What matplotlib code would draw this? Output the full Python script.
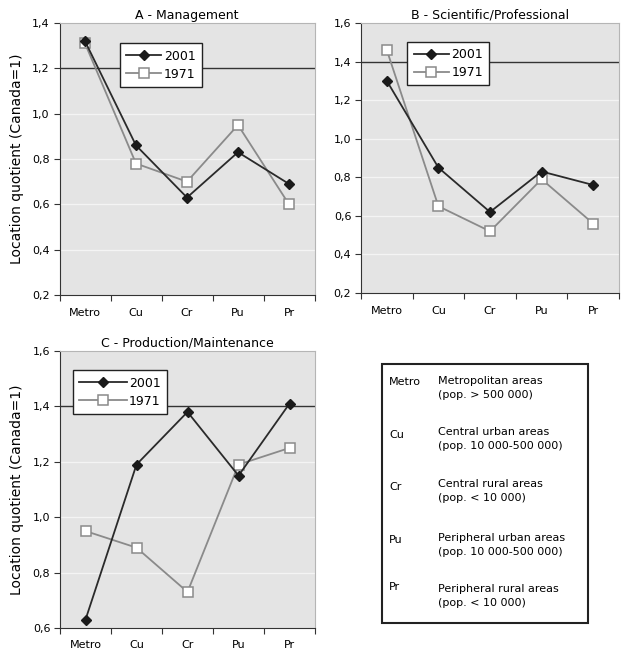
#Location quotient charts, three occupation groups plus a key box

import numpy as np
import matplotlib.pyplot as plt
from matplotlib.patches import Rectangle

#$$$$$$$$$$$$$$$$$$$$$$

categories = ["Metro", "Cu", "Cr", "Pu", "Pr"]

mgmt_2001 = [1.32, 0.86, 0.63, 0.83, 0.69]
mgmt_1971 = [1.31, 0.78, 0.70, 0.95, 0.60]

sci_2001 = [1.30, 0.85, 0.62, 0.83, 0.76]
sci_1971 = [1.46, 0.65, 0.52, 0.79, 0.56]

prod_2001 = [0.63, 1.19, 1.38, 1.15, 1.41]
prod_1971 = [0.95, 0.89, 0.73, 1.19, 1.25]

key_codes = ["Metro", "Cu", "Cr", "Pu", "Pr"]
key_names = ["Metropolitan areas\n(pop. > 500 000)",
             "Central urban areas\n(pop. 10 000-500 000)",
             "Central rural areas\n(pop. < 10 000)",
             "Peripheral urban areas\n(pop. 10 000-500 000)",
             "Peripheral rural areas\n(pop. < 10 000)"]

#$$$$$$$$$$$$$$$$$$$$$$

W = 624.0
H = 663.0

def px_axes(fig, left, top, right, bottom):
#makes an axes from pixel edges measured from the top left of the figure
    return fig.add_axes([left / W, (H - bottom) / H, (right - left) / W, (bottom - top) / H])

#$$$$$$$$$$$$$$$$$$$$$$

def draw_panel(ax, title, s2001, s1971, ymin, ymax, refline, legpos, ylabel, handlen):
#draws one panel with the two years, grey grid and a dark reference line
    x = np.arange(len(categories))
    ax.set_facecolor("#e4e4e4")
    ticks = np.arange(ymin, ymax + 0.001, 0.2)
    for t in ticks:
        if abs(t - refline) < 1e-6:
            ax.axhline(t, color="#333333", lw=1.0, zorder=1)
        elif t > ymin + 1e-6 and t < ymax - 1e-6:
            ax.axhline(t, color="#f4f4f4", lw=0.9, zorder=1)
    ax.plot(x, s1971, color="#8a8a8a", lw=1.3, marker="s", markersize=6.5,
            markerfacecolor="white", markeredgecolor="#8a8a8a", markeredgewidth=1.1,
            label="1971", zorder=3)
    ax.plot(x, s2001, color="#2a2a2a", lw=1.3, marker="D", markersize=5,
            markerfacecolor="#1a1a1a", markeredgecolor="#1a1a1a",
            label="2001", zorder=4)
    ax.set_xlim(-0.5, len(categories) - 0.5)
    ax.set_ylim(ymin, ymax)
    ax.set_yticks(ticks)
    ax.set_yticklabels([("%.1f" % t).replace(".", ",") for t in ticks], fontsize=8)
    ax.set_xticks(np.arange(-0.5, len(categories), 1.0))
    ax.set_xticklabels([])
    ax.set_xticks(x, minor=True)
    ax.set_xticklabels(categories, minor=True, fontsize=8)
    ax.tick_params(axis="x", which="minor", length=0, pad=9)
    ax.tick_params(axis="x", which="major", length=4, width=0.8, color="#333333")
    ax.tick_params(axis="y", length=4, width=0.8, color="#333333", pad=3)
    ax.spines["left"].set_color("#333333")
    ax.spines["bottom"].set_color("#333333")
    ax.spines["top"].set_color("#b5b5b5")
    ax.spines["right"].set_color("#b5b5b5")
    ax.set_title(title, fontsize=9, pad=3)
    if ylabel:
        ax.set_ylabel("Location quotient (Canada=1)", fontsize=10, labelpad=6)
    handles, labels = ax.get_legend_handles_labels()
    leg = ax.legend(handles[::-1], labels[::-1], loc="upper left", bbox_to_anchor=legpos,
                    borderaxespad=0, fancybox=False, edgecolor="#222222", framealpha=1,
                    fontsize=9, handlelength=handlen, handletextpad=0.2, borderpad=0.5,
                    labelspacing=0.4)
    leg.get_frame().set_linewidth(1.0)

#$$$$$$$$$$$$$$$$$$$$$$

fig = plt.figure(figsize=(W / 100, H / 100), dpi=100)

axA = px_axes(fig, 59.5, 23, 314.5, 295)
draw_panel(axA, "A - Management", mgmt_2001, mgmt_1971, 0.2, 1.4, 1.2, (0.237, 0.925), True, 2.8)

axB = px_axes(fig, 361, 23, 619, 293)
draw_panel(axB, "B - Scientific/Professional", sci_2001, sci_1971, 0.2, 1.6, 1.4, (0.18, 0.93), False, 2.8)

axC = px_axes(fig, 60, 351, 315, 628)
draw_panel(axC, "C - Production/Maintenance", prod_2001, prod_1971, 0.6, 1.6, 1.4, (0.05, 0.93), True, 3.8)

#key box for the category codes
fig.patches.append(Rectangle((382 / W, (H - 623) / H), (588 - 382) / W, (623 - 364) / H,
                             transform=fig.transFigure, facecolor="white",
                             edgecolor="#222222", lw=1.5))
code_y = [382, 435, 487, 540, 587]
name_y = [388, 439, 491, 545, 596]
for i in range(len(key_codes)):
    fig.text(389 / W, (H - code_y[i]) / H, key_codes[i], fontsize=8, va="center")
    fig.text(438 / W, (H - name_y[i]) / H, key_names[i], fontsize=8, va="center",
             linespacing=1.45)

plt.savefig("out.png", dpi=100)
